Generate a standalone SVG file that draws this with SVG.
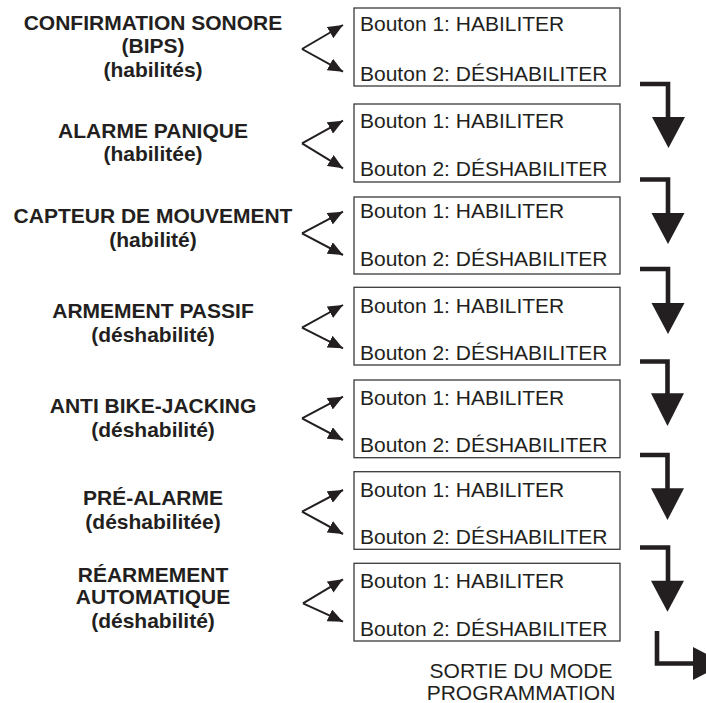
<svg xmlns="http://www.w3.org/2000/svg" width="706" height="703" viewBox="0 0 706 703">
<style>
.lbl{font-family:"Liberation Sans",Arial,sans-serif;font-weight:bold;font-size:21px;fill:#231f20;text-anchor:middle}
.btn{font-family:"Liberation Sans",Arial,sans-serif;font-size:21px;fill:#231f20}
.out{font-family:"Liberation Sans",Arial,sans-serif;font-size:21px;fill:#231f20;text-anchor:middle}
.box{fill:#fff;stroke:#3a3a3a;stroke-width:1.3}
.fork{fill:none;stroke:#231f20;stroke-width:2;marker-end:url(#ah)}
.flow{fill:none;stroke:#231f20;stroke-width:4.6;stroke-linejoin:miter}
.head{fill:#231f20}
</style>
<defs>
<marker id="ah" markerUnits="userSpaceOnUse" markerWidth="16" markerHeight="13" refX="15" refY="6.5" orient="auto">
<path d="M0,0 L15,6.5 L0,13 z" fill="#231f20"/>
</marker>
</defs>

<g id="node1">
<text class="lbl" x="153" y="29.5">CONFIRMATION SONORE</text>
<text class="lbl" x="153" y="53">(BIPS)</text>
<text class="lbl" x="153" y="76.5">(habilités)</text>
<rect class="box" x="354" y="8" width="266" height="78"/>
<text class="btn" x="360" y="31">Bouton 1: HABILITER</text>
<text class="btn" x="360" y="80.5">Bouton 2: DÉSHABILITER</text>
</g>
<g id="node2">
<text class="lbl" x="153" y="137.5">ALARME PANIQUE</text>
<text class="lbl" x="153" y="160.5">(habilitée)</text>
<rect class="box" x="354" y="104" width="266" height="78"/>
<text class="btn" x="360" y="127.5">Bouton 1: HABILITER</text>
<text class="btn" x="360" y="175.5">Bouton 2: DÉSHABILITER</text>
</g>
<g id="node3">
<text class="lbl" x="153" y="222.7">CAPTEUR DE MOUVEMENT</text>
<text class="lbl" x="153" y="246.7">(habilité)</text>
<rect class="box" x="354" y="197" width="266" height="77"/>
<text class="btn" x="360" y="218">Bouton 1: HABILITER</text>
<text class="btn" x="360" y="266">Bouton 2: DÉSHABILITER</text>
</g>
<g id="node4">
<text class="lbl" x="153" y="318.3">ARMEMENT PASSIF</text>
<text class="lbl" x="153" y="342.3">(déshabilité)</text>
<rect class="box" x="354" y="287.3" width="266" height="77.7"/>
<text class="btn" x="360" y="312.7">Bouton 1: HABILITER</text>
<text class="btn" x="360" y="360">Bouton 2: DÉSHABILITER</text>
</g>
<g id="node5">
<text class="lbl" x="153" y="413.3">ANTI BIKE-JACKING</text>
<text class="lbl" x="153" y="437.3">(déshabilité)</text>
<rect class="box" x="354" y="380" width="266" height="77.7"/>
<text class="btn" x="360" y="405">Bouton 1: HABILITER</text>
<text class="btn" x="360" y="451.7">Bouton 2: DÉSHABILITER</text>
</g>
<g id="node6">
<text class="lbl" x="153" y="505">PRÉ-ALARME</text>
<text class="lbl" x="153" y="529.3">(déshabilitée)</text>
<rect class="box" x="354" y="471.7" width="266" height="77.6"/>
<text class="btn" x="360" y="496.7">Bouton 1: HABILITER</text>
<text class="btn" x="360" y="544.3">Bouton 2: DÉSHABILITER</text>
</g>
<g id="node7">
<text class="lbl" x="153" y="582.3">RÉARMEMENT</text>
<text class="lbl" x="153" y="604.3">AUTOMATIQUE</text>
<text class="lbl" x="153" y="628.3">(déshabilité)</text>
<rect class="box" x="354" y="563.3" width="266" height="77.7"/>
<text class="btn" x="360" y="588.3">Bouton 1: HABILITER</text>
<text class="btn" x="360" y="636">Bouton 2: DÉSHABILITER</text>
</g>
<g id="exit">
<text class="out" x="521" y="677.7">SORTIE DU MODE</text>
<text class="out" x="521" y="700">PROGRAMMATION</text>
</g>

<g id="connectors">
<path class="fork" d="M302,49 L343,25"/>
<path class="fork" d="M302,49 L343,71.7"/>
<path class="fork" d="M302,143.3 L343,120.7"/>
<path class="fork" d="M302,143.3 L343,168.3"/>
<path class="fork" d="M302,233.3 L343,211.7"/>
<path class="fork" d="M302,233.3 L343,255"/>
<path class="fork" d="M302,327.7 L343,305"/>
<path class="fork" d="M302,327.7 L343,348.3"/>
<path class="fork" d="M302,418.3 L343,396.7"/>
<path class="fork" d="M302,418.3 L343,440"/>
<path class="fork" d="M302,511.7 L343,490"/>
<path class="fork" d="M302,511.7 L343,534"/>
<path class="fork" d="M303,603.3 L343,579.3"/>
<path class="fork" d="M303,603.3 L343,621.7"/>

<path class="flow" d="M640,84 H668 V118"/>
<polygon class="head" points="652,117 685,117 668.5,148"/>
<path class="flow" d="M640,179.5 H668 V214"/>
<polygon class="head" points="651.5,213 684.5,213 668,244"/>
<path class="flow" d="M640,269 H668 V304"/>
<polygon class="head" points="651.5,303 684.5,303 668,334"/>
<path class="flow" d="M640,361.5 H667.5 V394"/>
<polygon class="head" points="651,393.3 684,393.3 667.5,426"/>
<path class="flow" d="M640,455 H667.5 V489"/>
<polygon class="head" points="651,488.3 684,488.3 667.5,520"/>
<path class="flow" d="M640,547.5 H668 V581.5"/>
<polygon class="head" points="651,580.7 684,580.7 667.5,611.7"/>
<path class="flow" d="M657,631 V663.5 H694"/>
<polygon class="head" points="693,647 693,680 725,663.5"/>
</g>
</svg>
